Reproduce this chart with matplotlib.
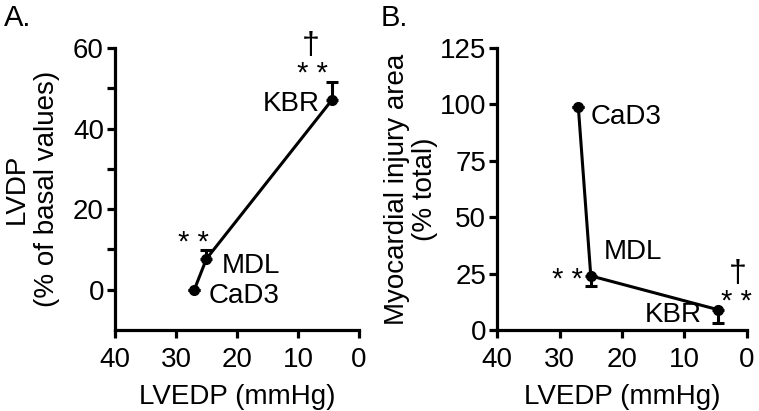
import numpy as np
import matplotlib
matplotlib.use("Agg")
import matplotlib.pyplot as plt

plt.rcParams['font.family'] = ['Liberation Sans', 'DejaVu Sans']

# data
groups = ['CaD3', 'MDL', 'KBR']
lvedp_a = [27, 25, 4.5]
lvdp = [0, 7.7, 47]
lvdp_err = [0, 2.1, 4.6]
lvedp_b = [27, 25, 4.6]
injury = [99, 24, 9]
injury_err = [0, 4.5, 6]

fig = plt.figure(figsize=(7.59, 4.11), dpi=100)
axA = fig.add_axes([0.1515, 0.197, 0.3215, 0.686])
axB = fig.add_axes([0.655, 0.197, 0.329, 0.686])

fs = 20
star_fs = 21
dag_fs = 23
lw = 2.3

def style(ax):
    for s in ['top', 'right']:
        ax.spines[s].set_visible(False)
    for s in ['left', 'bottom']:
        ax.spines[s].set_linewidth(lw)
    ax.tick_params(which='both', length=6, width=lw, labelsize=fs)
    ax.tick_params(axis='x', pad=6)
    ax.tick_params(axis='y', pad=2)
    ax.set_xlim(40, 0)
    ax.set_xticks([40, 30, 20, 10, 0])
    ax.set_xlabel('LVEDP (mmHg)', fontsize=fs, labelpad=8)

# panel A
axA.errorbar(lvedp_a, lvdp, yerr=[[0, 0, 0], lvdp_err], color='black', lw=2.2,
             marker='o', ms=7, capsize=4.5, capthick=2.2, elinewidth=2.2, clip_on=False)
style(axA)
axA.set_ylim(-10, 60)
axA.set_yticks([0, 20, 40, 60])
axA.set_yticks([10, 30, 50], minor=True)
fig.text(0.042, 1 - 189 / 411, 'LVDP\n(% of basal values)', fontsize=fs, rotation=90,
         ha='center', va='center', multialignment='center', linespacing=1.2)
axA.text(22.5, 5.8, 'MDL', fontsize=fs, va='center', ha='left')
axA.text(24.7, -1.5, 'CaD3', fontsize=fs, va='center', ha='left')
axA.text(6.4, 46, 'KBR', fontsize=fs, va='center', ha='right')
axA.text(27.2, 11.5, '* *', fontsize=star_fs, va='center', ha='center')
axA.text(7.7, 53.5, '* *', fontsize=star_fs, va='center', ha='center')
axA.text(7.9, 60.5, '†', fontsize=dag_fs, va='center', ha='center')
fig.text(0.005, 0.955, 'A.', fontsize=fs + 1, va='center', ha='left')

# panel B
axB.errorbar(lvedp_b, injury, yerr=[injury_err, [0, 0, 0]], color='black', lw=2.2,
             marker='o', ms=7, capsize=4.5, capthick=2.2, elinewidth=2.2, clip_on=False)
style(axB)
axB.set_ylim(0, 125)
axB.set_yticks([0, 25, 50, 75, 100, 125])
fig.text(0.5415, 1 - 189 / 411, 'Myocardial injury area\n(% total)', fontsize=fs, rotation=90,
         ha='center', va='center', multialignment='center', linespacing=1.1)
axB.text(25.1, 94.4, 'CaD3', fontsize=fs, va='center', ha='left')
axB.text(23, 34.6, 'MDL', fontsize=fs, va='center', ha='left')
axB.text(7.2, 6.6, 'KBR', fontsize=fs, va='center', ha='right')
axB.text(28.8, 22, '* *', fontsize=star_fs, va='center', ha='center')
axB.text(1.6, 12.5, '* *', fontsize=star_fs, va='center', ha='center')
axB.text(1.4, 25, '†', fontsize=dag_fs, va='center', ha='center')
fig.text(0.502, 0.955, 'B.', fontsize=fs + 1, va='center', ha='left')

fig.savefig('out.png', dpi=100)
